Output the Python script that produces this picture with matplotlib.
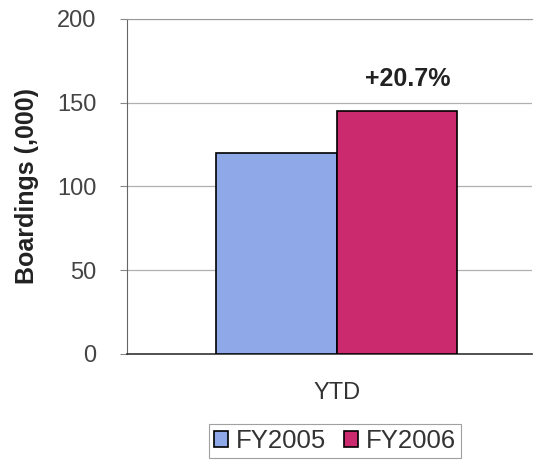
import matplotlib

matplotlib.use("Agg")
import matplotlib.pyplot as plt
import numpy as np

categories = ["YTD"]
series_names = ["FY2005", "FY2006"]
fy2005 = [120]
fy2006 = [145]
change_labels = ["+20.7%"]
y_ticks = [0, 50, 100, 150, 200]

colors = ["#8fa8e8", "#cc2a6e"]

plt.rcParams["font.family"] = ["Liberation Sans", "DejaVu Sans"]

fig = plt.figure(figsize=(5.42, 4.62), dpi=100)
ax = fig.add_axes([0.234, 0.234, 0.748, 0.725])

x = np.arange(len(categories))
width = 0.595
ax.bar(x - width / 2, fy2005, width, color=colors[0], edgecolor="black",
       linewidth=1.2, label=series_names[0], zorder=3)
ax.bar(x + width / 2, fy2006, width, color=colors[1], edgecolor="black",
       linewidth=1.2, label=series_names[1], zorder=3)

for xi, val, txt in zip(x, fy2006, change_labels):
    ax.annotate(txt, xy=(xi + width / 2, val + 12), xytext=(8, 0),
                textcoords="offset points", ha="center", va="bottom",
                fontsize=18, fontweight="bold", color="#222222")

ax.set_xlim(-1.035, 0.965)
ax.set_ylim(0, 200)
ax.set_yticks(y_ticks)
ax.set_xticks(x, labels=categories)
ax.tick_params(axis="x", length=0, pad=20, labelsize=17, labelcolor="#333333")
ax.tick_params(axis="y", length=5, width=0.8, color="#888888", labelsize=17,
               labelcolor="#444444", pad=17)
ax.grid(axis="y", color="#b0b0b0", linewidth=0.9, zorder=0)

ax.spines["right"].set_visible(False)
ax.spines["top"].set_color("#999999")
ax.spines["left"].set_color("#666666")
ax.spines["bottom"].set_color("#333333")
ax.spines["bottom"].set_linewidth(1.2)

ax.set_ylabel("Boardings (,000)", fontsize=18, fontweight="bold",
              color="#222222", labelpad=13)

leg = ax.legend(loc="center", bbox_to_anchor=(0.514, -0.26), ncol=2,
                frameon=True, fancybox=False, fontsize=18.5, handlelength=0.55,
                handleheight=0.55, handletextpad=0.3, columnspacing=0.7,
                borderpad=0.2)
leg.get_frame().set_edgecolor("#888888")
leg.get_frame().set_linewidth(0.8)
for t in leg.get_texts():
    t.set_color("#333333")

fig.savefig("out.png", dpi=100)
